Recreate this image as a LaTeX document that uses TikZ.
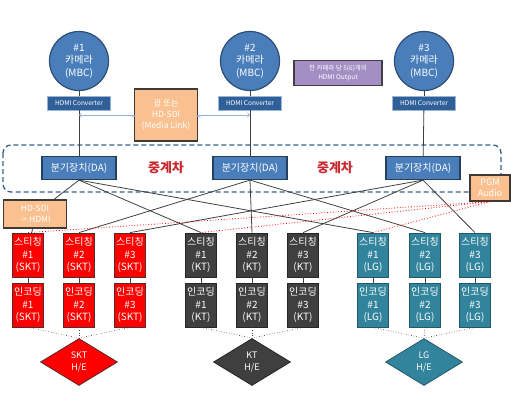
\documentclass[tikz,border=0pt]{standalone}
\usepackage{fontspec}
\setmainfont{Noto Sans CJK KR}
\usepackage{tikz}
\usetikzlibrary{shapes.geometric}

\definecolor{camfill}{HTML}{4A7EBB}
\definecolor{camline}{HTML}{2C4D75}
\definecolor{convfill}{HTML}{30609A}
\definecolor{convline}{HTML}{9DB5D5}
\definecolor{daline}{HTML}{243F60}
\definecolor{notefill}{HTML}{FAC08F}
\definecolor{noteline}{HTML}{3F3A36}
\definecolor{purplefill}{HTML}{A48FC4}
\definecolor{sktred}{HTML}{FF0000}
\definecolor{sktline}{HTML}{5A2A2A}
\definecolor{ktgray}{HTML}{3F3F3F}
\definecolor{ktline}{HTML}{262626}
\definecolor{lgteal}{HTML}{31849B}
\definecolor{lgline}{HTML}{215968}
\definecolor{vanline}{HTML}{385D8A}
\definecolor{wiregray}{HTML}{404040}
\definecolor{linkblue}{HTML}{95B3D7}
\definecolor{relayred}{HTML}{C8282D}

\begin{document}
\begin{tikzpicture}[x=1pt,y=-1pt,
  cam/.style={circle,draw=camline,fill=camfill,line width=1.2pt,minimum size=59pt,inner sep=0pt,text=white,align=center,font=\fontsize{10}{12.5}\selectfont},
  conv/.style={draw=convline,fill=convfill,minimum width=63pt,minimum height=14pt,inner sep=0pt,text=white,font=\fontsize{6.5}{7}\selectfont},
  da/.style={draw=daline,fill=camfill,line width=1.2pt,minimum width=74pt,minimum height=23pt,inner sep=0pt,text=white,font=\fontsize{10}{12}\selectfont},
  note/.style={draw=noteline,fill=notefill,line width=1.2pt,inner sep=0pt,text=white,align=center,font=\fontsize{8.5}{11}\selectfont},
  relay/.style={text=relayred,font=\fontsize{13}{15}\selectfont\bfseries},
  stitch/.style={draw,line width=0.8pt,minimum width=31pt,minimum height=44pt,inner sep=0pt,text=white,align=center,font=\fontsize{10}{12.5}\selectfont},
  skt/.style={stitch,fill=sktred,draw=sktline},
  kt/.style={stitch,fill=ktgray,draw=ktline},
  lg/.style={stitch,fill=lgteal,draw=lgline},
  he/.style={diamond,line width=0.8pt,minimum width=77pt,minimum height=47pt,inner sep=0pt,text=white,align=center,font=\fontsize{9}{11.5}\selectfont},
  wire/.style={draw=wiregray,line width=0.8pt},
  audio/.style={draw=red,line width=0.8pt,dotted},
  feed/.style={draw=wiregray,line width=0.6pt,dotted},
  link/.style={draw=linkblue,line width=0.9pt,->}]
\useasboundingbox (0,0) rectangle (511,400);

% 중계차 area
\draw[vanline,line width=1.3pt,dash pattern=on 5pt off 3pt,rounded corners=8pt] (3,145) rectangle (501,192);

% cameras
\path (79,61) node[cam] (cam1) {\#1\\카메라\\(MBC)};
\path (250,61) node[cam] (cam2) {\#2\\카메라\\(MBC)};
\path (424,61) node[cam] (cam3) {\#3\\카메라\\(MBC)};

\path (79,103) node[conv] (conv1) {HDMI Converter};
\path (250,103) node[conv] (conv2) {HDMI Converter};
\path (424,103) node[conv] (conv3) {HDMI Converter};

\path (79,168) node[da] (da1) {분기장치(DA)};
\path (250,168) node[da] (da2) {분기장치(DA)};
\path (423,168) node[da] (da3) {분기장치(DA)};

\path (166,168) node[relay] (relay1) {중계차};
\path (335,168) node[relay] (relay2) {중계차};

% notes
\path (166,115) node[note,minimum width=63pt,minimum height=52pt] (link) {광 또는\\HD-SDI\\(Media Link)};
\path (338,73) node[note,fill=purplefill,draw=wiregray,minimum width=88pt,minimum height=25pt,font=\fontsize{6.5}{8.5}\selectfont] (outs) {한 카메라 당 5(6)개의\\HDMI Output};
\path (490,188) node[note,minimum width=40pt,minimum height=26pt,font=\fontsize{9}{11}\selectfont] (pgm) {PGM\\Audio};
\path (35,214) node[note,minimum width=63pt,minimum height=28pt] (hdsdi) {HD-SDI\\-> HDMI};

% stitching
\path (28,255) node[skt] (skts1) {스티칭\\\#1\\(SKT)};
\path (79,255) node[skt] (skts2) {스티칭\\\#2\\(SKT)};
\path (130,255) node[skt] (skts3) {스티칭\\\#3\\(SKT)};
\path (201,255) node[kt] (kts1) {스티칭\\\#1\\(KT)};
\path (252,255) node[kt] (kts2) {스티칭\\\#2\\(KT)};
\path (303,255) node[kt] (kts3) {스티칭\\\#3\\(KT)};
\path (373,255) node[lg] (lgs1) {스티칭\\\#1\\(LG)};
\path (425,255) node[lg] (lgs2) {스티칭\\\#2\\(LG)};
\path (475,255) node[lg] (lgs3) {스티칭\\\#3\\(LG)};

% encoding
\path (28,305) node[skt] (skte1) {인코딩\\\#1\\(SKT)};
\path (79,305) node[skt] (skte2) {인코딩\\\#2\\(SKT)};
\path (130,305) node[skt] (skte3) {인코딩\\\#3\\(SKT)};
\path (201,305) node[kt] (kte1) {인코딩\\\#1\\(KT)};
\path (252,305) node[kt] (kte2) {인코딩\\\#2\\(KT)};
\path (303,305) node[kt] (kte3) {인코딩\\\#3\\(KT)};
\path (373,305) node[lg] (lge1) {인코딩\\\#1\\(LG)};
\path (425,305) node[lg] (lge2) {인코딩\\\#2\\(LG)};
\path (475,305) node[lg] (lge3) {인코딩\\\#3\\(LG)};

% head ends
\path (79,362) node[he,fill=sktred,draw=sktline] (skthe) {SKT\\H/E};
\path (252,362) node[he,fill=ktgray,draw=ktline] (kthe) {KT\\H/E};
\path (424,362) node[he,fill=lgteal,draw=lgline] (lghe) {LG\\H/E};

% camera chains
\path[wire] (cam1) edge (conv1);
\path[wire] (conv1) edge (da1);
\path[wire] (cam2) edge (conv2);
\path[wire] (conv2) edge (da2);
\path[wire] (cam3) edge (conv3);
\path[wire] (conv3) edge (da3);

\coordinate (tap1) at (link.west -| da1);
\coordinate (tap2) at (link.east -| da2);
\path[link] (link.west) edge (tap1);
\path[link] (link.east) edge (tap2);

% DA outputs
\path[wire] (da1.south) edge (hdsdi);
\path[wire] (hdsdi) edge (skts1);
\path[wire] (da1.south) edge (kts1.north);
\path[wire] (da1.south) edge (lgs1.north);
\path[wire] (da2.south) edge (skts2.north);
\path[wire] (da2.south) edge (kts2.north);
\path[wire] (da2.south) edge (lgs2.north);
\path[wire] (da3.south) edge (skts3.north);
\path[wire] (da3.south) edge (kts3.north);
\path[wire] (da3.south) edge (lgs3.north);

% audio
\path[audio] (pgm.south) edge (skts1.north);
\path[audio] (pgm.south) edge (kts1.north);
\path[audio] (pgm.south) edge (lgs1.north);

% stitching to encoding
\path[wire] (skts1) edge (skte1);
\path[wire] (skts2) edge (skte2);
\path[wire] (skts3) edge (skte3);
\path[wire] (kts1) edge (kte1);
\path[wire] (kts2) edge (kte2);
\path[wire] (kts3) edge (kte3);
\path[wire] (lgs1) edge (lge1);
\path[wire] (lgs2) edge (lge2);
\path[wire] (lgs3) edge (lge3);

% encoding to H/E
\path[feed] (skte1.south) edge (skthe.north);
\path[feed] (skte2.south) edge (skthe.north);
\path[feed] (skte3.south) edge (skthe.north);
\path[feed] (kte1.south) edge (kthe.north);
\path[feed] (kte2.south) edge (kthe.north);
\path[feed] (kte3.south) edge (kthe.north);
\path[feed] (lge1.south) edge (lghe.north);
\path[feed] (lge2.south) edge (lghe.north);
\path[feed] (lge3.south) edge (lghe.north);
\end{tikzpicture}
\end{document}
